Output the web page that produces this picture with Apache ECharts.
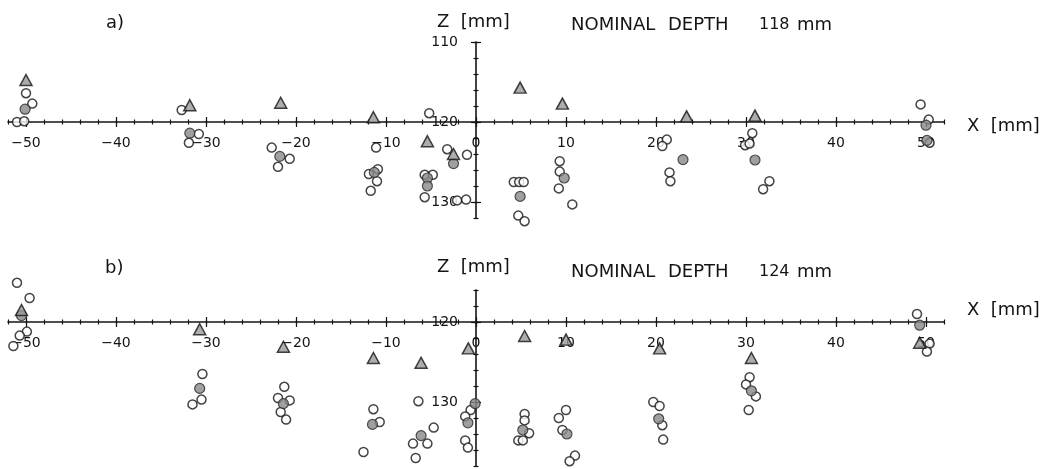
<!DOCTYPE html>
<html>
<head>
<meta charset="utf-8">
<script src="https://cdn.jsdelivr.net/npm/echarts@6/dist/echarts.min.js"></script>
<style>
  html, body { margin: 0; padding: 0; background: #fff; }
  #chart { width: 1049px; height: 469px; }
</style>
</head>
<body>
<div id="chart"></div>
<script>
// a) nominal depth 118 mm, points as [x, z] in mm
const openA = [
  [-50.0, 116.4], [-49.3, 117.7], [-51.0, 120.0], [-50.2, 119.9],
  [-32.7, 118.5], [-30.8, 121.5], [-31.9, 122.6],
  [-22.7, 123.2], [-20.7, 124.6], [-22.0, 125.6],
  [-11.1, 123.2], [-11.9, 126.5], [-10.9, 125.9], [-11.0, 127.4], [-11.7, 128.6],
  [-5.2, 118.9], [-5.7, 126.6], [-4.8, 126.6], [-5.7, 129.4],
  [-3.2, 123.4], [-1.0, 124.1], [-2.1, 129.8], [-1.1, 129.7],
  [4.2, 127.5], [4.8, 127.5], [5.3, 127.5], [4.7, 131.7], [5.4, 132.4],
  [9.3, 124.9], [9.3, 126.2], [9.2, 128.3], [10.7, 130.3],
  [21.2, 122.2], [20.7, 123.0], [21.5, 126.3], [21.6, 127.4],
  [30.7, 121.4], [29.9, 122.9], [30.4, 122.7], [32.6, 127.4], [31.9, 128.4],
  [49.4, 117.8], [50.3, 119.7], [50.4, 122.6]
]
const filledA = [
  [-50.1, 118.4], [-31.8, 121.4], [-21.8, 124.3], [-11.3, 126.3],
  [-5.4, 127.0], [-5.4, 128.0], [-2.5, 125.2], [4.9, 129.3], [9.8, 127.0],
  [23.0, 124.7], [31.0, 124.75], [50.0, 120.4], [50.1, 122.3]
]
const triA = [
  [-50.0, 114.75], [-31.8, 117.9], [-21.7, 117.6], [-11.4, 119.4], [-5.4, 122.4],
  [-2.5, 124.0], [4.9, 115.7], [9.6, 117.7], [23.4, 119.3], [31.0, 119.2]
]

// b) nominal depth 124 mm
const openB = [
  [-51.0, 115.1], [-49.6, 117.0], [-49.9, 121.2], [-50.7, 121.7], [-51.4, 123.0],
  [-30.4, 126.5], [-30.5, 129.7], [-31.5, 130.3],
  [-21.3, 128.1], [-22.0, 129.5], [-20.7, 129.8], [-21.7, 131.25], [-21.1, 132.2],
  [-11.4, 130.9], [-10.7, 132.5], [-12.5, 136.25],
  [-6.4, 129.9], [-7.0, 135.2], [-5.4, 135.2], [-4.7, 133.2], [-6.7, 137.0],
  [-0.6, 131.0], [-1.2, 131.8], [-1.2, 134.8], [-0.9, 135.7],
  [5.4, 131.5], [5.4, 132.3], [5.9, 133.9], [4.7, 134.8], [5.2, 134.8],
  [10.0, 131.0], [9.2, 132.0], [9.6, 133.5], [11.0, 136.7], [10.4, 137.4],
  [19.7, 130.0], [20.4, 130.5], [20.7, 132.9], [20.8, 134.7],
  [30.4, 126.9], [30.0, 127.8], [31.1, 129.3], [30.3, 131.0],
  [49.0, 119.0], [50.4, 122.7], [50.1, 123.7]
]
const filledB = [
  [-50.5, 119.2], [-30.7, 128.3], [-21.4, 130.2], [-11.5, 132.8], [-6.1, 134.2],
  [-0.1, 130.2], [-0.9, 132.6], [5.2, 133.5], [10.1, 134.0], [20.3, 132.1],
  [30.6, 128.6], [49.3, 120.4]
]
const triB = [
  [-50.5, 118.5], [-30.7, 120.9], [-21.4, 123.1], [-11.4, 124.5], [-6.1, 125.1],
  [-0.85, 123.3], [5.4, 121.75], [10.0, 122.2], [20.4, 123.3], [30.6, 124.5], [49.3, 122.6]
]

const xMajor = [-50, -40, -30, -20, -10, 0, 10, 20, 30, 40, 50]
const zMajorA = [110, 120, 130]
const zMajorB = [120, 130]

const INK = '#141414'
const FONT = 'DejaVu Sans'

const panels = [
  { top: 42, zMin: 110, zMax: 132, zMajor: zMajorA, open: openA, filled: filledA, tri: triA },
  { top: 290, zMin: 116, zMax: 138, zMajor: zMajorB, open: openB, filled: filledB, tri: triB },
]
const GRID_LEFT = 8, GRID_W = 936, GRID_H = 176
const X_MIN = -52, X_MAX = 52
const xOff0 = 476 - GRID_LEFT // pixel of x = 0 from grid left

function minus(v) { return v < 0 ? '\u2212' + (-v) : String(v) }

const grids = [], xAxes = [], yAxes = [], series = []

panels.forEach((p, g) => {
  grids.push({ left: GRID_LEFT, top: p.top, width: GRID_W, height: GRID_H })
  const zPx = (120 - p.zMin) / (p.zMax - p.zMin) * GRID_H
  const xOffset = -(GRID_H - zPx)
  const base = { gridIndex: g, type: 'value', min: X_MIN, max: X_MAX, interval: 2,
    position: 'bottom', offset: xOffset, splitLine: { show: false } }
  const tickStyle = { color: INK, width: 1.2 }
  xAxes.push(
    { ...base,
      axisLine: { onZero: false, lineStyle: { color: INK, width: 1.6 } },
      axisTick: { length: 2.5, lineStyle: tickStyle },
      axisLabel: { customValues: xMajor, margin: 14, color: INK, fontSize: 14, fontFamily: FONT,
        formatter: (v) => (v % 10 === 0 ? minus(v) : '') } },
    { ...base, axisLine: { show: false, onZero: false },
      axisTick: { inside: true, length: 2.5, lineStyle: tickStyle }, axisLabel: { show: false } },
    { ...base, axisLine: { show: false, onZero: false },
      axisTick: { customValues: xMajor, length: 5, lineStyle: tickStyle }, axisLabel: { show: false } },
    { ...base, axisLine: { show: false, onZero: false },
      axisTick: { customValues: xMajor, inside: true, length: 5, lineStyle: tickStyle }, axisLabel: { show: false } }
  )
  const ybase = { gridIndex: g, type: 'value', inverse: true, min: p.zMin, max: p.zMax, interval: 2,
    position: 'left', offset: -xOff0, splitLine: { show: false } }
  yAxes.push(
    { ...ybase,
      axisLine: { onZero: false, lineStyle: { color: INK, width: 1.6 } },
      axisTick: { length: 2.5, lineStyle: tickStyle },
      axisLabel: { customValues: p.zMajor, margin: 18, color: INK, fontSize: 14, fontFamily: FONT,
        formatter: (v) => (v % 10 === 0 ? String(v) : '') } },
    { ...ybase, axisLine: { show: false, onZero: false },
      axisTick: { inside: true, length: 2.5, lineStyle: tickStyle }, axisLabel: { show: false } },
    { ...ybase, axisLine: { show: false, onZero: false },
      axisTick: { customValues: p.zMajor, length: 5, lineStyle: tickStyle }, axisLabel: { show: false } },
    { ...ybase, axisLine: { show: false, onZero: false },
      axisTick: { customValues: p.zMajor, inside: true, length: 5, lineStyle: tickStyle }, axisLabel: { show: false } }
  )
  const ax = { xAxisIndex: g * 4, yAxisIndex: g * 4, clip: false, silent: true }
  series.push(
    { ...ax, type: 'scatter', data: p.open, symbol: 'circle', symbolSize: 9, z: 3,
      itemStyle: { color: '#fff', borderColor: INK, borderWidth: 1.5 } },
    { ...ax, type: 'scatter', data: p.filled, symbol: 'circle', symbolSize: 10, z: 4,
      itemStyle: { color: '#888888', borderColor: '#2a2a2a', borderWidth: 1.2 } },
    { ...ax, type: 'scatter', data: p.tri, symbol: 'triangle', symbolSize: [12, 11], z: 5,
      itemStyle: { color: '#999999', borderColor: INK, borderWidth: 1.5 } }
  )
})

function label(text, x, y, size) {
  return { type: 'text', x, y, silent: true,
    style: { text, fill: INK, fontSize: size || 18, fontFamily: FONT, verticalAlign: 'middle' } }
}

const chart = echarts.init(document.getElementById('chart'), null, { renderer: 'canvas' })
chart.setOption({
  backgroundColor: '#fff',
  animation: false,
  grid: grids,
  xAxis: xAxes,
  yAxis: yAxes,
  series,
  graphic: [
    label('a)', 106, 23),
    label('Z  [mm]', 437, 22),
    label('NOMINAL', 571, 25), label('DEPTH', 668, 25), label('118', 759, 25, 16), label('mm', 797, 25),
    label('X  [mm]', 967, 126),
    label('b)', 105, 268),
    label('Z  [mm]', 437, 267),
    label('NOMINAL', 571, 272), label('DEPTH', 668, 272), label('124', 759, 272, 16), label('mm', 797, 272),
    label('X  [mm]', 967, 310),
  ],
})
</script>
</body>
</html>
